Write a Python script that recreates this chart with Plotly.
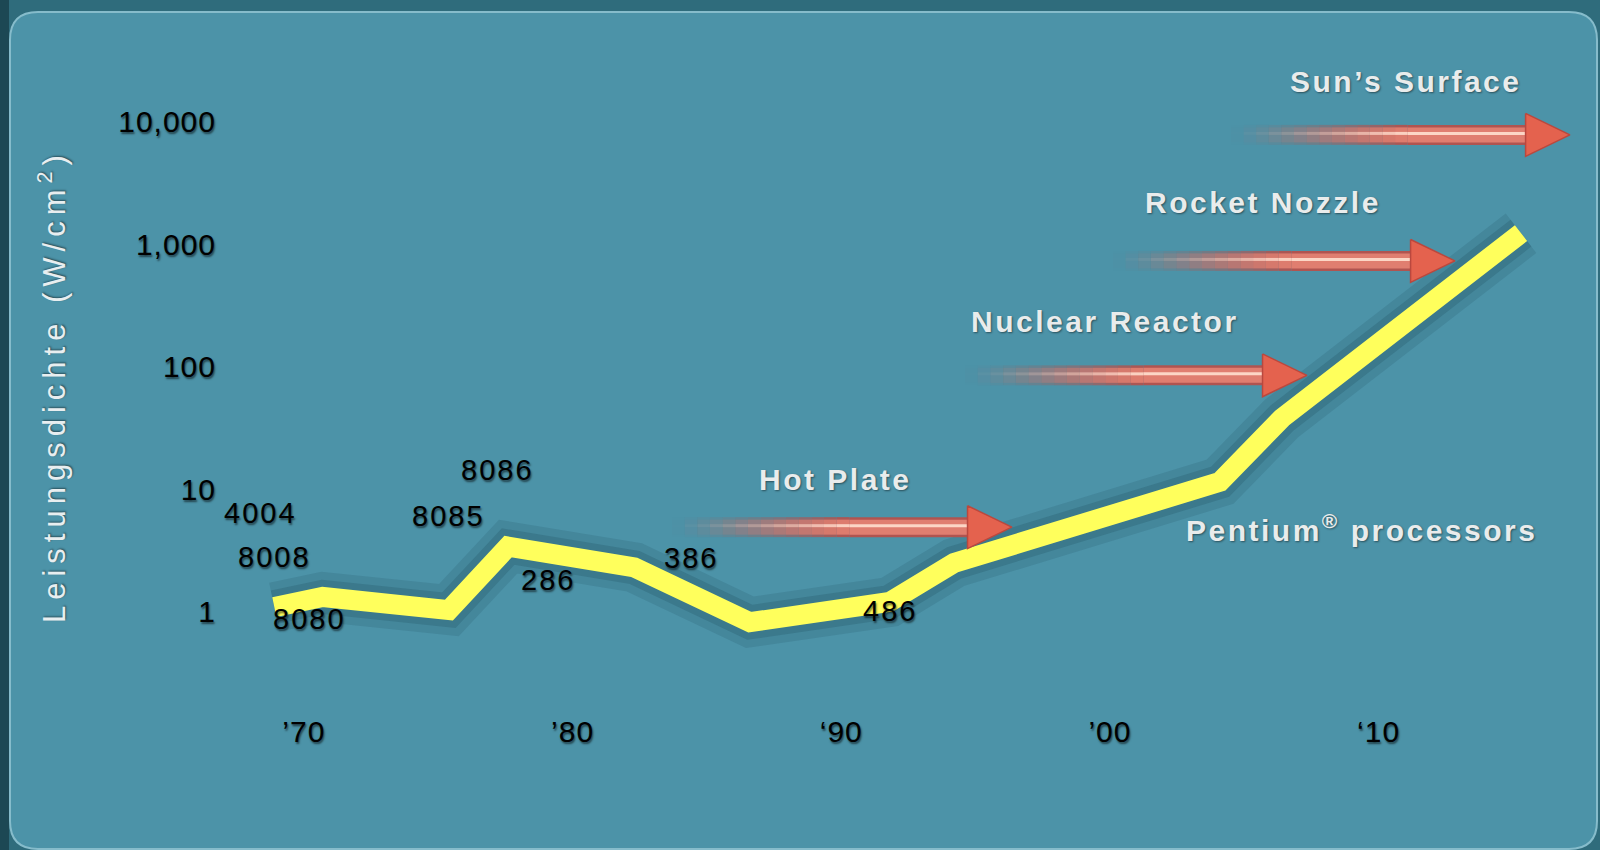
import math
import plotly.graph_objects as go

# ---------------- data ----------------
line_years = [1968.9, 1970.7, 1975.4, 1977.6, 1982.3, 1986.6, 1991.8, 1994.2, 2004.1, 2006.4, 2015.3]
line_density = [1.09, 1.32, 1.03, 3.4, 2.3, 0.82, 1.2, 2.5, 11.5, 38, 1230]

chip_names = ["4004", "8008", "8080", "8085", "8086", "286", "386", "486"]
chip_years = [1968.4, 1968.9, 1970.2, 1975.4, 1977.2, 1979.1, 1984.4, 1991.8]
chip_density = [6.4, 2.8, 0.87, 6.0, 14.4, 1.8, 2.75, 1.01]

ref_names = ["Hot Plate", "Nuclear Reactor", "Rocket Nozzle", "Sun’s Surface"]
ref_density = [4.9, 85, 730, 7800]
ref_start = [1983.7, 1994.6, 2000.1, 2004.5]
ref_end = [1996.35, 2007.33, 2012.84, 2017.12]
ref_label_year = [1989.8, 1999.8, 2005.7, 2011.0]
ref_label_density = [12.1, 236, 2170, 21100]

series_label = "Pentium<sup>®</sup> processors"
series_label_year = 2009.35
series_label_density = 4.82

tick_years = [1970, 1980, 1990, 2000, 2010]
tick_year_text = ["’70", "’80", "‘90", "’00", "‘10"]
tick_density = [1, 10, 100, 1000, 10000]
tick_density_text = ["1", "10", "100", "1,000", "10,000"]

y_title = "Leistungsdichte (W/cm<sup>2</sup>)"

# ---------------- styling ----------------
FONT = "Liberation Sans, Arial, sans-serif"
BLACK_SHADOW = "1px 2px 2px rgba(0,0,0,0.55)"
WHITE_SHADOW = "1px 1px 2px rgba(0,0,0,0.45)"


def spaced(t, px):
    return f'<span style="letter-spacing:{px}px">{t}</span>'


fig = go.Figure()

# shadow/halo under the yellow curve
fig.add_trace(go.Scatter(x=line_years, y=line_density, mode="lines",
                         line=dict(color="rgba(15,50,62,0.12)", width=50),
                         hoverinfo="skip", showlegend=False))
fig.add_trace(go.Scatter(x=line_years, y=line_density, mode="lines",
                         line=dict(color="rgba(15,50,62,0.16)", width=34),
                         hoverinfo="skip", showlegend=False))
fig.add_trace(go.Scatter(x=line_years, y=line_density, mode="lines",
                         line=dict(color="#ffff5c", width=20),
                         hoverinfo="skip", showlegend=False))

# reference arrows with fading tails
HEAD_LEN = 1.65      # years
HEAD_HALF = 0.175    # decades
N_SEG = 14
FADE = 0.6
layers = [((176, 84, 80), 20, 1.0),
          ((224, 126, 112), 15, 1.0),
          ((252, 214, 198), 3, 10 ** 0.012)]
for v, x0, x1 in zip(ref_density, ref_start, ref_end):
    xb = x1 - HEAD_LEN
    xs = x0 + (xb - x0) * FADE
    for col, w, dy in layers:
        for i in range(N_SEG):
            a = x0 + (xs - x0) * i / N_SEG
            b = x0 + (xs - x0) * (i + 1) / N_SEG
            al = ((i + 0.5) / N_SEG) ** 1.5
            fig.add_trace(go.Scatter(
                x=[a, b], y=[v * dy, v * dy], mode="lines",
                line=dict(color=f"rgba({col[0]},{col[1]},{col[2]},{al:.3f})", width=w),
                hoverinfo="skip", showlegend=False))
        fig.add_trace(go.Scatter(
            x=[xs, xb + 0.15], y=[v * dy, v * dy], mode="lines",
            line=dict(color=f"rgb({col[0]},{col[1]},{col[2]})", width=w),
            hoverinfo="skip", showlegend=False))
    fig.add_trace(go.Scatter(
        x=[xb, x1, xb, xb], y=[v * 10 ** HEAD_HALF, v, v / 10 ** HEAD_HALF, v * 10 ** HEAD_HALF],
        mode="lines", fill="toself", fillcolor="rgb(228,98,78)",
        line=dict(color="rgb(186,72,62)", width=1.5),
        hoverinfo="skip", showlegend=False))

annotations = []
for n, x, y in zip(chip_names, chip_years, chip_density):
    annotations.append(dict(x=x, y=math.log10(y), xref="x", yref="y", text=spaced(n, 2),
                            showarrow=False,
                            font=dict(family=FONT, size=29, color="black", shadow=BLACK_SHADOW)))
for n, x, y in zip(ref_names, ref_label_year, ref_label_density):
    annotations.append(dict(x=x, y=math.log10(y), xref="x", yref="y", text=spaced(n, 2.5),
                            showarrow=False,
                            font=dict(family=FONT, size=30, color="#e9ecec", weight="bold",
                                      shadow=WHITE_SHADOW)))
annotations.append(dict(x=series_label_year, y=math.log10(series_label_density), xref="x", yref="y",
                        text=spaced(series_label, 2.5), showarrow=False,
                        font=dict(family=FONT, size=30, color="#e9ecec", weight="bold",
                                  shadow=WHITE_SHADOW)))
annotations.append(dict(x=52 / 1600, y=1 - 386 / 850, xref="paper", yref="paper",
                        xanchor="center", yanchor="middle",
                        text=spaced(y_title, 6), textangle=-90, showarrow=False,
                        font=dict(family=FONT, size=31, color="#e8eef0", shadow=WHITE_SHADOW)))

# background panel (rounded rectangle) in paper coordinates
W, H = 1600, 850


def px(x):
    return x / W


def py(y):
    return 1 - y / H


r = 28
x0, x1, y0, y1 = 10, 1597, 12, 849
panel = (f"M {px(x0 + r)},{py(y0)} L {px(x1 - r)},{py(y0)} "
         f"Q {px(x1)},{py(y0)} {px(x1)},{py(y0 + r)} L {px(x1)},{py(y1 - r)} "
         f"Q {px(x1)},{py(y1)} {px(x1 - r)},{py(y1)} L {px(x0 + r)},{py(y1)} "
         f"Q {px(x0)},{py(y1)} {px(x0)},{py(y1 - r)} L {px(x0)},{py(y0 + r)} "
         f"Q {px(x0)},{py(y0)} {px(x0 + r)},{py(y0)} Z")
shapes = [
    dict(type="rect", xref="paper", yref="paper", x0=0, x1=px(9), y0=0, y1=1,
         fillcolor="#1c4854", line=dict(width=0), layer="below"),
    dict(type="path", path=panel, xref="paper", yref="paper",
         fillcolor="#4c93a8", line=dict(color="#86bccb", width=2), layer="below"),
]

fig.update_layout(
    width=W, height=H,
    margin=dict(l=0, r=0, t=0, b=0),
    paper_bgcolor="#2f6c7c",
    plot_bgcolor="rgba(0,0,0,0)",
    showlegend=False,
    shapes=shapes,
    annotations=annotations,
    xaxis=dict(range=[1958.69, 2018.24], domain=[0, 1], anchor="free", position=0.164,
               showgrid=False, zeroline=False, showline=False, ticks="",
               tickvals=tick_years, ticktext=[spaced(t, 1) for t in tick_year_text],
               tickfont=dict(family=FONT, size=30, color="black", shadow=BLACK_SHADOW)),
    yaxis=dict(type="log", range=[-1.945, 4.993], domain=[0, 1], anchor="free", position=0.135,
               showgrid=False, zeroline=False, showline=False, ticks="",
               tickvals=tick_density, ticktext=[spaced(t, 1) for t in tick_density_text],
               tickfont=dict(family=FONT, size=30, color="black", shadow=BLACK_SHADOW)),
)

fig.write_html("out.html")
